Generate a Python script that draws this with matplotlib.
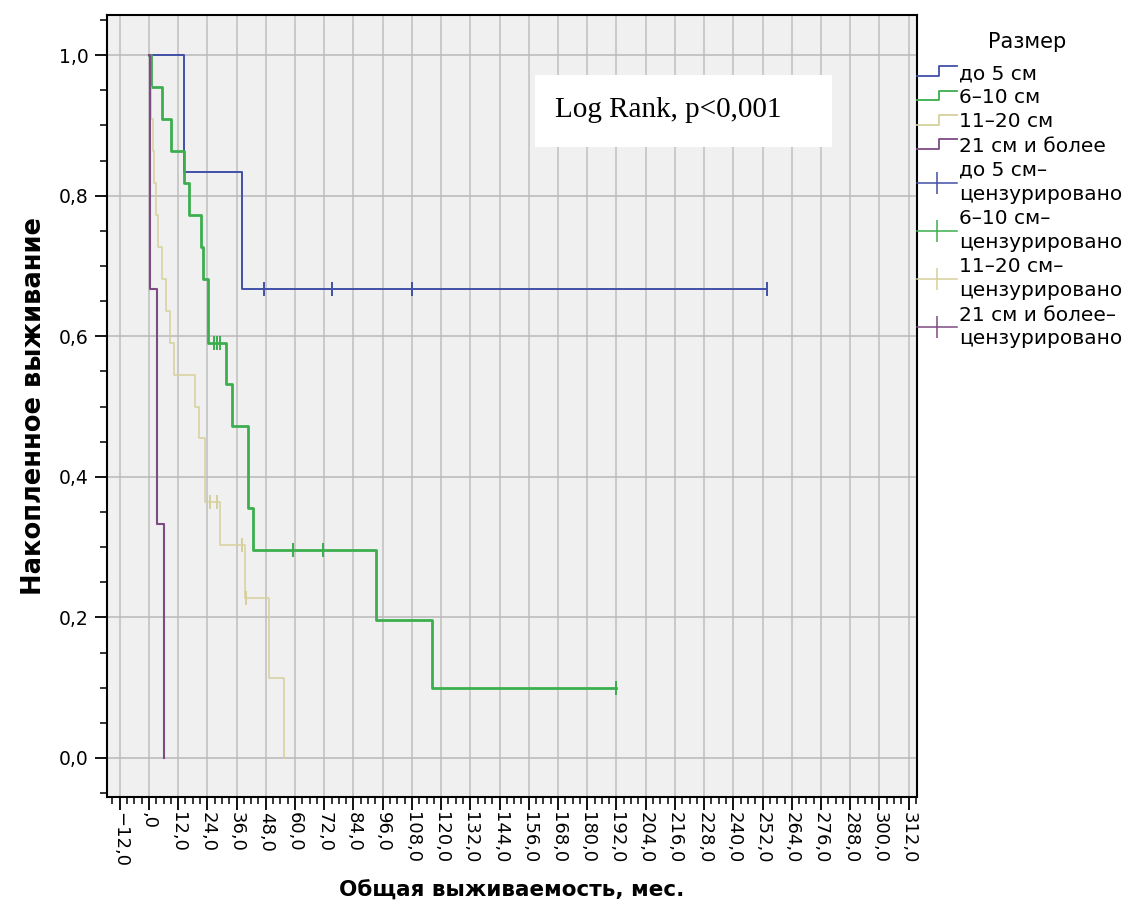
import matplotlib
matplotlib.use('Agg')
import matplotlib.pyplot as plt
from matplotlib.lines import Line2D
from matplotlib.patches import Rectangle
from matplotlib.legend_handler import HandlerBase
from matplotlib.ticker import MultipleLocator, FuncFormatter

# ---- data (months, cumulative survival) ----
group_names = ['до 5 см', '6–10 см', '11–20 см', '21 см и более']
cens_names = ['до 5 см–\nцензурировано', '6–10 см–\nцензурировано',
              '11–20 см–\nцензурировано', '21 см и более–\nцензурировано']

blue_t = [0, 14.4, 38.2, 254.0]
blue_s = [1.0, 0.833, 0.667, 0.667]
blue_ct = [47.2, 75.2, 108.0, 254.0]
blue_cs = [0.667, 0.667, 0.667, 0.667]

green_t = [0, 1.0, 5.3, 9.0, 14.4, 16.4, 21.4, 22.2, 24.2, 31.6, 34.1,
           40.7, 42.7, 93.2, 116.2, 191.8]
green_s = [1.0, 0.955, 0.909, 0.864, 0.818, 0.773, 0.727, 0.682, 0.591,
           0.532, 0.473, 0.355, 0.296, 0.197, 0.099, 0.099]
green_ct = [26.7, 27.9, 29.2, 59.1, 71.5, 191.8]
green_cs = [0.591, 0.591, 0.591, 0.296, 0.296, 0.099]

yellow_t = [0, 0.5, 1.0, 1.5, 2.0, 3.0, 3.8, 5.5, 7.0, 8.5, 10.5, 18.9,
            20.5, 23.0, 29.2, 39.4, 49.3, 55.4]
yellow_s = [1.0, 0.955, 0.909, 0.864, 0.818, 0.773, 0.727, 0.682, 0.636,
            0.591, 0.545, 0.500, 0.455, 0.364, 0.303, 0.227, 0.114, 0.0]
yellow_ct = [25.0, 27.9, 38.4, 40.0]
yellow_cs = [0.364, 0.364, 0.303, 0.227]

purple_t = [0, 0.5, 3.3, 6.2]
purple_s = [1.0, 0.667, 0.333, 0.0]

colors = ['#4150a8', '#3cae4e', '#d6d09a', '#7d4a82']
widths = [1.4, 2.0, 1.1, 1.5]


class StepHandler(HandlerBase):
    # little step glyph like the SPSS legend
    def create_artists(self, legend, orig_handle, xdescent, ydescent,
                       width, height, fontsize, trans):
        x0 = -xdescent
        xm = x0 + 0.55 * width
        yl = -ydescent + 0.2 * height
        yh = -ydescent + 0.9 * height
        ln = Line2D([x0, xm, xm, x0 + width], [yl, yl, yh, yh],
                    color=orig_handle.get_color(),
                    lw=orig_handle.get_linewidth())
        ln.set_transform(trans)
        return [ln]


fig = plt.figure(figsize=(11.35, 9.21), dpi=100)
ax = fig.add_axes([107 / 1135, 1 - 797 / 921, 810 / 1135, 782 / 921])
ax.set_facecolor('#f0f0f0')

curves = [(blue_t, blue_s), (green_t, green_s), (yellow_t, yellow_s),
          (purple_t, purple_s)]
for (t, s), c, w in zip(curves, colors, widths):
    ax.step(t, s, where='post', color=c, lw=w, zorder=3)

cens = [(blue_ct, blue_cs), (green_ct, green_cs), (yellow_ct, yellow_cs)]
for (t, s), c in zip(cens, colors):
    ax.plot(t, s, ls='none', marker='|', ms=10, mew=1.4, color=c, zorder=4)

ax.set_xlim(-17.2, 315.4)
ax.set_ylim(-0.0555, 1.057)

ax.xaxis.set_major_locator(MultipleLocator(12))
ax.xaxis.set_minor_locator(MultipleLocator(3))
ax.yaxis.set_major_locator(MultipleLocator(0.2))
ax.yaxis.set_minor_locator(MultipleLocator(0.05))


def xfmt(v, pos):
    if abs(v) < 1e-9:
        return ',0'
    return ('%.1f' % v).replace('.', ',').replace('-', '−')


ax.xaxis.set_major_formatter(FuncFormatter(xfmt))
ax.yaxis.set_major_formatter(FuncFormatter(lambda v, p: ('%.1f' % v).replace('.', ',')))
ax.tick_params(axis='x', which='major', length=9, width=1.3, labelsize=13,
               labelrotation=270, pad=2)
ax.tick_params(axis='y', which='major', length=9, width=1.3, labelsize=13.5, pad=4)
ax.tick_params(which='minor', length=5, width=1.1)
for lab in ax.get_xticklabels():
    lab.set_va('top')

ax.grid(True, which='major', axis='x', color='#c6c6c6', lw=1.3)
ax.grid(True, which='major', axis='y', color='#b9b9b9', lw=1.1)
ax.set_axisbelow(True)
for sp in ax.spines.values():
    sp.set_linewidth(1.5)

ax.set_ylabel('Накопленное выживание', fontsize=18.5, fontweight='bold')
ax.yaxis.set_label_coords(-0.074, 0.5)
ax.set_xlabel('Общая выживаемость, мес.', fontsize=15.5, fontweight='bold')
ax.xaxis.set_label_coords(0.5, -0.107)

# Log Rank box
ax.add_patch(Rectangle((0.528, 0.831), 0.367, 0.092, transform=ax.transAxes,
                       fc='white', ec='none', zorder=5))
ax.text(0.553, 0.878, 'Log Rank, p<0,001', transform=ax.transAxes,
        fontsize=21, family='Liberation Serif', va='center', ha='left', zorder=6)

# legend (title drawn separately so its gap can be matched)
fig.text(1027 / 1135, 1 - 42 / 921, 'Размер', ha='center', va='center',
         fontsize=15)
handles = [Line2D([], [], color=c, lw=1.3) for c in colors]
handles += [Line2D([], [], color=c, lw=1.1, marker='|', ms=16, mew=1.1)
            for c in colors]
labels = group_names + cens_names
hmap = {h: StepHandler() for h in handles[:4]}
leg = ax.legend(handles, labels, handler_map=hmap, loc='upper left',
                bbox_to_anchor=(917 / 1135, 1 - 64 / 921),
                bbox_transform=fig.transFigure, frameon=False,
                fontsize=14.5, handlelength=2.0, handletextpad=0.1,
                labelspacing=0.26, borderpad=0, borderaxespad=0)
for t in leg.get_texts():
    t.set_linespacing(1.33)

fig.savefig('out.png', dpi=100)
